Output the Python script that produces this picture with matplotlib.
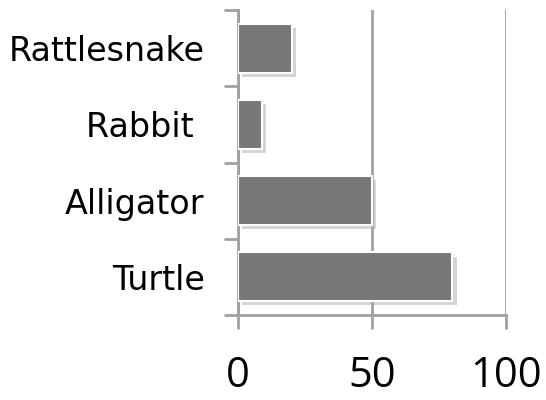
import matplotlib
matplotlib.use("Agg")
import matplotlib.pyplot as plt
import matplotlib.patheffects as pe

animals = ["Turtle", "Alligator", "Rabbit ", "Rattlesnake"]
counts = [80, 50, 9, 20]
x_ticks = [0, 50, 100]

axis_grey = "#a0a0a0"

fig = plt.figure(figsize=(5.46, 4.0), dpi=100)
ax = fig.add_axes([238 / 546, 85 / 400, 268 / 546, 305 / 400])

bars = ax.barh(range(len(animals)), counts, height=0.64, color="#777777",
               edgecolor="white", linewidth=1.5, zorder=3)
for b in bars:
    b.set_path_effects([pe.SimplePatchShadow(offset=(3, -3), shadow_rgbFace="#aaaaaa", alpha=0.5),
                        pe.Normal()])

ax.set_xlim(0, 100)
ax.set_ylim(-0.5, len(animals) - 0.5)
ax.set_xticks(x_ticks)
ax.set_xticklabels([str(t) for t in x_ticks], fontsize=30, family="Open Sans")
ax.set_yticks([i - 0.5 for i in range(len(animals) + 1)], minor=False)
ax.set_yticklabels([])
ax.set_yticks(range(len(animals)), minor=True)
ax.set_yticklabels(animals, minor=True, fontsize=24, family="DejaVu Sans")
ax.tick_params(axis="y", which="minor", length=0, pad=24)
ax.tick_params(axis="y", which="major", length=10, width=2, color=axis_grey)
ax.tick_params(axis="x", length=10, width=2, color=axis_grey, pad=19)

ax.grid(axis="x", color=axis_grey, linewidth=2, zorder=0)
for side in ["top", "right"]:
    ax.spines[side].set_visible(False)
for side in ["left", "bottom"]:
    ax.spines[side].set_color(axis_grey)
    ax.spines[side].set_linewidth(2)

fig.savefig("out.png", dpi=100)
